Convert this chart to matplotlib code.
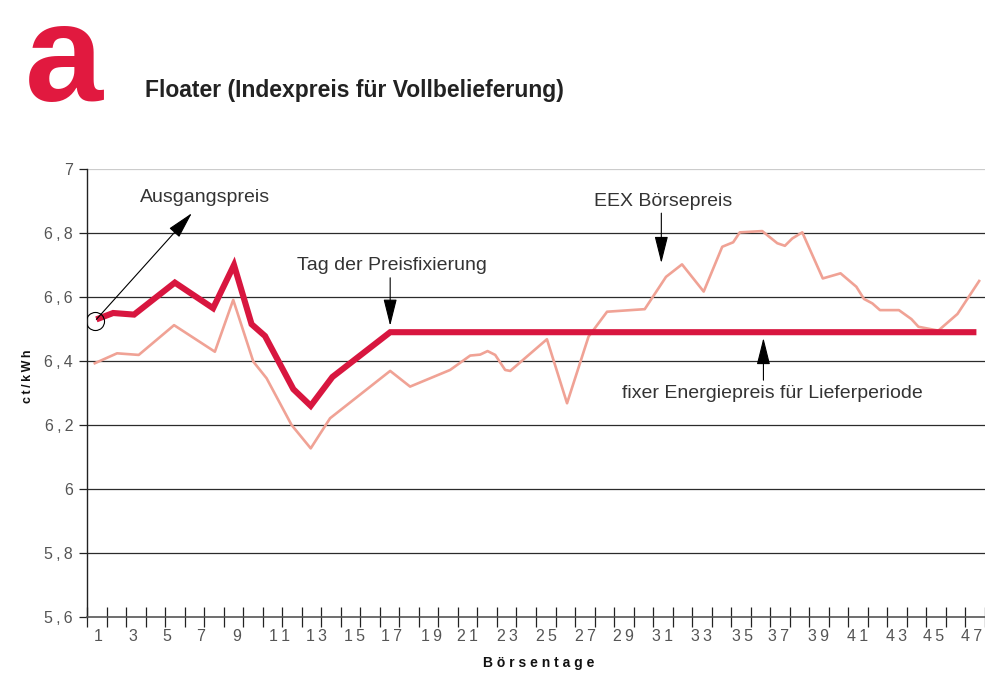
import numpy as np
import matplotlib
matplotlib.use("Agg")
from matplotlib import pyplot as plt

plt.rcParams['font.family'] = ['Liberation Sans', 'DejaVu Sans']

# Floater: Indexpreis (rot) und EEX-Börsenpreis (rosa), Werte in ct/kWh
floater_tage = [0.98, 1.84, 2.91, 5.0, 6.96, 8.03, 8.93, 9.62, 11.07, 11.96, 13.07, 16.03, 46.06]
floater_preis = [6.53, 6.55, 6.545, 6.645, 6.565, 6.70, 6.515, 6.478, 6.312, 6.26, 6.35, 6.49, 6.49]

eex_tage = [0.9, 2.04, 3.15, 4.96, 7.05, 7.99, 9.02, 9.7, 10.98, 11.96, 12.95, 16.03,
            17.05, 19.1, 20.13, 20.64, 21.02, 21.41, 21.92, 22.18, 24.06, 25.09, 26.19,
            27.14, 29.07, 30.16, 30.98, 32.09, 33.04, 33.6, 33.94, 35.09, 35.86, 36.25,
            36.63, 37.14, 38.19, 39.1, 39.91, 40.3, 40.73, 41.12, 42.09, 42.73, 43.09,
            44.11, 45.09, 46.2]
eex_preis = [6.393, 6.424, 6.419, 6.512, 6.429, 6.591, 6.398, 6.346, 6.20, 6.127, 6.221, 6.369,
             6.32, 6.372, 6.417, 6.42, 6.431, 6.419, 6.372, 6.369, 6.468, 6.268, 6.476,
             6.554, 6.562, 6.663, 6.702, 6.617, 6.757, 6.771, 6.802, 6.806, 6.768, 6.760,
             6.783, 6.802, 6.658, 6.674, 6.632, 6.594, 6.580, 6.559, 6.559, 6.531, 6.507,
             6.495, 6.547, 6.65]

y_ticks = [5.6, 5.8, 6.0, 6.2, 6.4, 6.6, 6.8, 7.0]
y_labels = ["5,6", "5,8", "6", "6,2", "6,4", "6,6", "6,8", "7"]
x_labels = [str(k) for k in range(1, 48, 2)]
# the printed day labels drift against the tick marks, so they get their own positions
x_label_pos = [1.07, 2.86, 4.57, 6.33, 8.16, 10.38, 12.27, 14.19, 16.11, 18.16, 20.01, 22.06,
               24.06, 26.01, 27.99, 29.96, 31.97, 34.06, 35.94, 37.96, 39.96, 41.96, 43.89, 45.8]

rot = "#d8163f"
rosa = "#f0a295"
grau = "#555555"
TS = "\u2009"  # thin space for the spaced-out lettering


def sperren(s):
    return TS.join(s)


fig = plt.figure(figsize=(9.85, 6.76), dpi=100)
ax = fig.add_axes([87 / 985, 1 - 617 / 676, 1 - 87 / 985, (617 - 169) / 676])
ax.set_xlim(0.5, 46.5)
ax.set_ylim(5.6, 7.0)

for y in y_ticks[1:-1]:
    ax.axhline(y, color="#2b2b2b", lw=0.9, zorder=1)
ax.axhline(7.0, color="#cccccc", lw=0.9, zorder=1)

ax.plot(eex_tage, eex_preis, color=rosa, lw=1.9, zorder=2)
ax.plot(floater_tage, floater_preis, color=rot, lw=4.4, zorder=3,
        solid_capstyle="butt", solid_joinstyle="miter")
ax.plot(floater_tage[0] - 0.05, floater_preis[0] - 0.006, "o", ms=13, mfc="none",
        mec="black", mew=0.8, zorder=4)

for s in ["top", "right"]:
    ax.spines[s].set_visible(False)
ax.spines["left"].set_color("#222222")
ax.spines["left"].set_linewidth(1.0)
ax.spines["bottom"].set_color("#555555")
ax.spines["bottom"].set_linewidth(1.2)

ax.set_yticks(y_ticks)
ax.set_yticklabels([sperren(l) for l in y_labels])
ax.tick_params(axis="y", direction="out", length=6, width=0.9, colors="#222222",
               labelcolor=grau, labelsize=11.5, pad=4)

ax.set_xticks(np.arange(0.5, 46.6, 1.0))
ax.set_xticklabels([])
ax.tick_params(axis="x", direction="inout", length=14, width=0.9, colors="#222222")
for pos, lab in zip(x_label_pos, x_labels):
    ax.text(pos, -0.027, sperren(lab), transform=ax.get_xaxis_transform(), ha="center",
            va="top", fontsize=11.5, color=grau)

pfeil = dict(arrowstyle="-|>,head_length=1.2,head_width=0.3", color="black", lw=0.8,
             mutation_scale=14, shrinkA=0, shrinkB=0)
ax.annotate("", xy=(5.87, 6.862), xytext=(0.98, 6.53), arrowprops=pfeil)
ax.text(3.2, 6.912, "Ausgangspreis", fontsize=14, color="#333333", va="center", ha="left")

ax.annotate("", xy=(16.03, 6.51), xytext=(16.03, 6.66), arrowprops=pfeil)
ax.text(11.26, 6.697, "Tag der Preisfixierung", fontsize=14, color="#333333", va="center", ha="left")

ax.annotate("", xy=(29.92, 6.706), xytext=(29.92, 6.862), arrowprops=pfeil)
ax.text(26.49, 6.90, "EEX Börsepreis", fontsize=14, color="#333333", va="center", ha="left")

ax.annotate("", xy=(35.15, 6.472), xytext=(35.15, 6.34), arrowprops=pfeil)
ax.text(27.92, 6.297, "fixer Energiepreis für Lieferperiode", fontsize=14, color="#333333",
        va="center", ha="left")

fig.text(28 / 985, 1 - 376 / 676, sperren("ct/kWh"), rotation=90, fontsize=9,
         fontweight="bold", ha="center", va="center", color="#111111")
fig.text(539 / 985, 1 - 663 / 676, "B ö r s e n t a g e", fontsize=10, fontweight="bold",
         ha="center", va="center", color="#111111")

fig.text(25 / 985, 1 - 0.5 / 676, "a", fontsize=101, fontweight="bold", color="#e1193f",
         ha="left", va="top")
fig.text(145 / 985, 1 - 91 / 676, "Floater (Indexpreis für Vollbelieferung)", fontsize=16.5,
         fontweight="bold", color="#222222", ha="left", va="center")

fig.savefig("out.png", dpi=100)
